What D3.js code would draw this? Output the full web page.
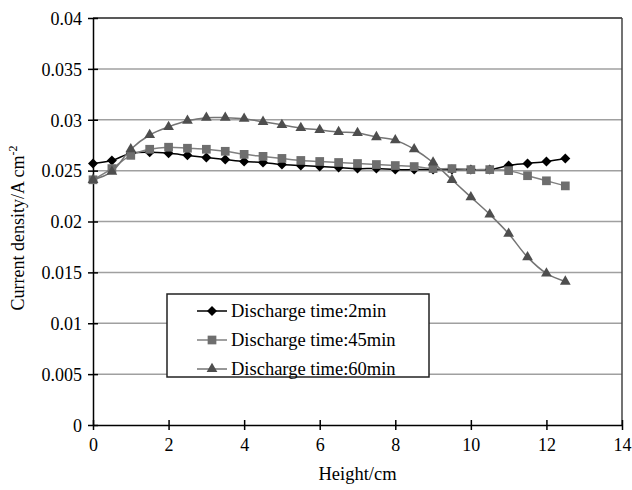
<!DOCTYPE html>
<html>
<head>
<meta charset="utf-8">
<script src="https://cdn.jsdelivr.net/npm/d3@7/dist/d3.min.js"></script>
<style>
  html, body { margin: 0; padding: 0; background: #fff; }
  svg { display: block; font-family: "Liberation Serif", "Times New Roman", serif; }
</style>
</head>
<body>
<svg id="chart" width="632" height="490"></svg>
<script>
// Measurement positions along the electrode (cm)
const heights = [0, 0.5, 1, 1.5, 2, 2.5, 3, 3.5, 4, 4.5, 5, 5.5, 6, 6.5,
                 7, 7.5, 8, 8.5, 9, 9.5, 10, 10.5, 11, 11.5, 12, 12.5];

// Current density (A cm^-2) for each discharge time
const density2min = [0.0257, 0.0260, 0.0267, 0.0268, 0.0267, 0.0265, 0.0263, 0.0261, 0.0259, 0.0258,
                     0.0256, 0.0255, 0.0254, 0.0253, 0.0252, 0.0252, 0.0251, 0.0251, 0.0251, 0.0251,
                     0.0251, 0.0251, 0.0255, 0.0257, 0.0259, 0.0262];
const density45min = [0.0241, 0.0252, 0.0265, 0.0271, 0.0273, 0.0272, 0.0271, 0.0269, 0.0266, 0.0264,
                      0.0262, 0.0260, 0.0259, 0.0258, 0.0257, 0.0256, 0.0255, 0.0254, 0.0252, 0.0252,
                      0.0251, 0.0251, 0.0250, 0.0245, 0.0240, 0.0235];
const density60min = [0.0241, 0.0249, 0.0271, 0.0285, 0.0293, 0.0299, 0.0302, 0.0302, 0.0301, 0.0298,
                      0.0295, 0.0292, 0.0290, 0.0288, 0.0287, 0.0283, 0.0280, 0.0271, 0.0258, 0.0241,
                      0.0224, 0.0207, 0.0188, 0.0165, 0.0149, 0.0141];

const seriesNames = ["Discharge time:2min", "Discharge time:45min", "Discharge time:60min"];
const xTicks = [0, 2, 4, 6, 8, 10, 12, 14];
const yTicks = [0, 0.005, 0.01, 0.015, 0.02, 0.025, 0.03, 0.035, 0.04];

const svg = d3.select("#chart");
const plotLeft = 93, plotRight = 622, plotTop = 18, plotBottom = 425;

const x = d3.scaleLinear().domain([0, 14]).range([plotLeft, plotRight]);
const y = d3.scaleLinear().domain([0, 0.04]).range([plotBottom, plotTop]);

const series = [
  { name: seriesNames[0], values: density2min, line: "#000000", fill: "#000000", symbol: d3.symbolDiamond2, size: 64 },
  { name: seriesNames[1], values: density45min, line: "#808080", fill: "#6e6e6e", symbol: d3.symbolSquare, size: 76 },
  { name: seriesNames[2], values: density60min, line: "#747474", fill: "#4e4e4e", symbol: d3.symbolTriangle, size: 50 }
];

// Horizontal gridlines
svg.append("g")
  .selectAll("line")
  .data(yTicks.filter(d => d > 0 && d < 0.04))
  .join("line")
  .attr("x1", plotLeft).attr("x2", plotRight)
  .attr("y1", d => y(d)).attr("y2", d => y(d))
  .attr("stroke", "#a0a0a0").attr("stroke-width", 1.5);

// Plot frame (top and right)
svg.append("line").attr("x1", plotLeft).attr("x2", plotRight).attr("y1", plotTop).attr("y2", plotTop)
  .attr("stroke", "#222").attr("stroke-width", 1.5);
svg.append("line").attr("x1", plotRight).attr("x2", plotRight).attr("y1", plotTop).attr("y2", plotBottom)
  .attr("stroke", "#444").attr("stroke-width", 1.5);

// Axes with ticks crossing the axis line
const yAxis = d3.axisLeft(y).tickValues(yTicks).tickSizeInner(5).tickSizeOuter(0)
  .tickFormat(d => d === 0 ? "0" : String(+d.toFixed(3)));
const gy = svg.append("g").attr("transform", `translate(${plotLeft},0)`).call(yAxis);
gy.select(".domain").attr("stroke", "#000").attr("stroke-width", 1.5);
gy.selectAll(".tick line").attr("stroke", "#000").attr("stroke-width", 1.5).attr("x1", 5);
gy.selectAll(".tick text").attr("x", -11).attr("dy", "0.35em")
  .attr("font-size", 18).attr("font-family", "Liberation Serif, serif").attr("fill", "#000");

const xAxis = d3.axisBottom(x).tickValues(xTicks).tickSizeInner(5).tickSizeOuter(0)
  .tickFormat(d3.format("d"));
const gx = svg.append("g").attr("transform", `translate(0,${plotBottom})`).call(xAxis);
gx.select(".domain").attr("stroke", "#000").attr("stroke-width", 1.5);
gx.selectAll(".tick line").attr("stroke", "#000").attr("stroke-width", 1.5).attr("y1", -5);
gx.selectAll(".tick text").attr("y", 13).attr("dy", "0.71em")
  .attr("font-size", 18).attr("font-family", "Liberation Serif, serif").attr("fill", "#000");

// Smoothed series lines
const line = d3.line()
  .x((d, i) => x(heights[i]))
  .y(d => y(d))
  .curve(d3.curveCatmullRom.alpha(0.5));

series.forEach(s => {
  svg.append("path")
    .datum(s.values)
    .attr("d", line)
    .attr("fill", "none")
    .attr("stroke", s.line)
    .attr("stroke-width", 1.5);
});

// Markers
series.forEach(s => {
  const sym = d3.symbol().type(s.symbol).size(s.size);
  svg.append("g")
    .selectAll("path")
    .data(s.values)
    .join("path")
    .attr("d", sym)
    .attr("transform", (d, i) => `translate(${x(heights[i])},${y(d)})`)
    .attr("fill", s.fill);
});

// Axis titles
svg.append("text")
  .attr("x", (plotLeft + plotRight) / 2).attr("y", 480)
  .attr("text-anchor", "middle").attr("font-size", 18.5)
  .text("Height/cm");

const yTitle = svg.append("text")
  .attr("transform", "translate(24,228) rotate(-90)")
  .attr("text-anchor", "middle").attr("font-size", 18);
yTitle.append("tspan").text("Current density/A cm");
yTitle.append("tspan").attr("font-size", 12).attr("dy", -7).text("-2");

// Legend
const lg = svg.append("g");
lg.append("rect")
  .attr("x", 167).attr("y", 294).attr("width", 262).attr("height", 83)
  .attr("fill", "#fff").attr("stroke", "#222").attr("stroke-width", 1.5);
const rowY = [311, 340, 369];
series.forEach((s, i) => {
  lg.append("line").attr("x1", 197).attr("x2", 227).attr("y1", rowY[i]).attr("y2", rowY[i])
    .attr("stroke", s.line).attr("stroke-width", 1.5);
  lg.append("path").attr("d", d3.symbol().type(s.symbol).size(s.size)())
    .attr("transform", `translate(212,${rowY[i]})`).attr("fill", s.fill);
  lg.append("text").attr("x", 231).attr("y", rowY[i]).attr("dy", "0.35em")
    .attr("font-size", 18.5).text(s.name);
});
</script>
</body>
</html>
